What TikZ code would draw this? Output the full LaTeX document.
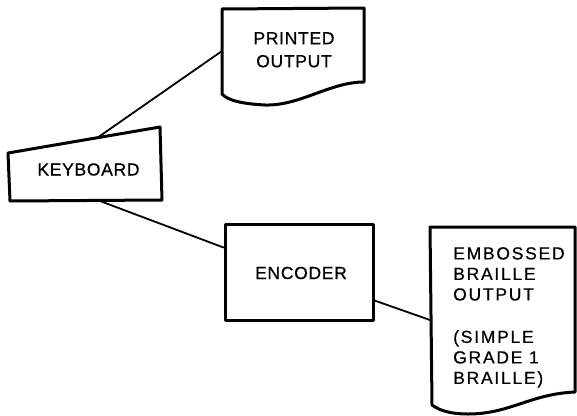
\documentclass[tikz,border=0pt]{standalone}
\usepackage{fontspec}
\newfontfamily\lab{Liberation Sans}[LetterSpace=4,FakeBold=0.6]
\newfontfamily\labwide{Liberation Sans}[LetterSpace=10,FakeBold=0.6]
\usetikzlibrary{calc}
\tikzset{
  outline/.style={line width=3pt, line join=round, line cap=round},
  conn/.style={line width=1.8pt, line cap=round},
  labeltext/.style={inner sep=0pt, font=\lab\fontsize{17.5}{23}\selectfont},
}
\begin{document}
\begin{tikzpicture}[x=1pt,y=-1pt]
\useasboundingbox (0,0) rectangle (577,415);
% KEYBOARD (manual input shape)
\draw[outline] (8,153) -- (160,127) -- (162,200) -- (10,201) -- cycle;
\node[labeltext] (kb) at (88.5,169.5) {KEYBOARD};
\coordinate (kbT) at (97,138);
\coordinate (kbB) at (100,201);
% PRINTED OUTPUT (document shape)
\draw[outline] (222,94) -- (222,9) -- (364,8) -- (364,82)
  .. controls (330,82) and (300,106) .. (265,105)
  .. controls (245,104) and (228,101) .. cycle;
\node[labeltext, align=center] (po) at (294,49.8) {PRINTED\\OUTPUT};
\coordinate (poL) at (222,51);
% ENCODER
\node[draw, outline, minimum width=148pt, minimum height=96pt, inner sep=0pt] (enc) at (299,272) {};
\node[labeltext] (enct) at (301,273) {ENCODER};
% EMBOSSED BRAILLE OUTPUT
\draw[outline] (432,405) -- (430,227) -- (575,227) -- (575,392)
  .. controls (530,394) and (510,414) .. (468,414)
  .. controls (452,414) and (440,411) .. cycle;
\node[labeltext, align=left, anchor=north west, font=\labwide\fontsize{17.5}{20.5}\selectfont] (bo) at (453,247)
  {EMBOSSED\\BRAILLE\\OUTPUT\\[22pt](SIMPLE\\GRADE 1\\BRAILLE)};
\coordinate (boL) at (430,320);
% connectors
\draw[conn] (kbT) -- (poL);
\draw[conn] (kbB) -- ([yshift=-25pt]enc.north west);
\draw[conn] ([yshift=-78pt]enc.north east) -- (boL);
\end{tikzpicture}
\end{document}
